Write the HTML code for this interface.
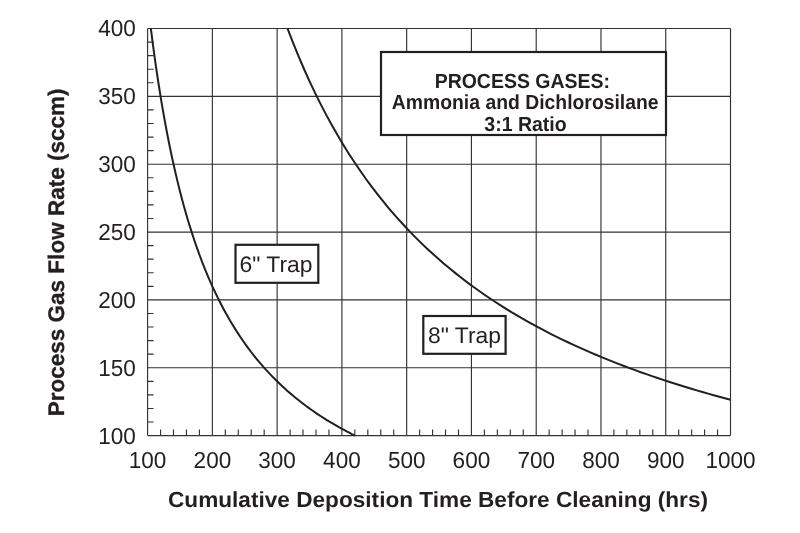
<!DOCTYPE html>
<html><head><meta charset="utf-8"><title>Process Gas Flow Rate</title>
<style>
html,body{margin:0;padding:0;background:#fff;}
svg{display:block;text-rendering:geometricPrecision;font-family:"Liberation Sans",sans-serif;}
</style></head><body>
<svg width="800" height="533" viewBox="0 0 800 533">
<rect width="800" height="533" fill="#fff"/>
<path d="M147.60,28.5V435.6M212.37,28.5V435.6M277.13,28.5V435.6M341.90,28.5V435.6M406.67,28.5V435.6M471.43,28.5V435.6M536.20,28.5V435.6M600.97,28.5V435.6M665.73,28.5V435.6M730.50,28.5V435.6M147.6,435.60H730.5M147.6,367.75H730.5M147.6,299.90H730.5M147.6,232.05H730.5M147.6,164.20H730.5M147.6,96.35H730.5M147.6,28.50H730.5" stroke="#333" stroke-width="1.15" fill="none"/>
<path d="M160.55,435.6v-6M173.51,435.6v-6M186.46,435.6v-6M199.41,435.6v-6M225.32,435.6v-6M238.27,435.6v-6M251.23,435.6v-6M264.18,435.6v-6M290.09,435.6v-6M303.04,435.6v-6M315.99,435.6v-6M328.95,435.6v-6M354.85,435.6v-6M367.81,435.6v-6M380.76,435.6v-6M393.71,435.6v-6M419.62,435.6v-6M432.57,435.6v-6M445.53,435.6v-6M458.48,435.6v-6M484.39,435.6v-6M497.34,435.6v-6M510.29,435.6v-6M523.25,435.6v-6M549.15,435.6v-6M562.11,435.6v-6M575.06,435.6v-6M588.01,435.6v-6M613.92,435.6v-6M626.87,435.6v-6M639.83,435.6v-6M652.78,435.6v-6M678.69,435.6v-6M691.64,435.6v-6M704.59,435.6v-6M717.55,435.6v-6M147.6,422.03h6M147.6,408.46h6M147.6,394.89h6M147.6,381.32h6M147.6,354.18h6M147.6,340.61h6M147.6,327.04h6M147.6,313.47h6M147.6,286.33h6M147.6,272.76h6M147.6,259.19h6M147.6,245.62h6M147.6,218.48h6M147.6,204.91h6M147.6,191.34h6M147.6,177.77h6M147.6,150.63h6M147.6,137.06h6M147.6,123.49h6M147.6,109.92h6M147.6,82.78h6M147.6,69.21h6M147.6,55.64h6M147.6,42.07h6" stroke="#333" stroke-width="1.15" fill="none"/>
<path d="M150.84,28.50 L153.42,48.36 L156.00,66.82 L158.59,84.01 L161.17,100.08 L163.75,115.12 L166.33,129.23 L168.92,142.49 L171.50,154.98 L174.08,166.76 L176.66,177.89 L179.25,188.43 L181.83,198.42 L184.41,207.90 L186.99,216.91 L189.58,225.48 L192.16,233.65 L194.74,241.44 L197.32,248.88 L199.91,256.00 L202.49,262.80 L205.07,269.32 L207.65,275.57 L210.24,281.56 L212.82,287.32 L215.40,292.85 L217.98,298.17 L220.56,303.29 L223.15,308.23 L225.73,312.98 L228.31,317.57 L230.89,321.99 L233.48,326.26 L236.06,330.39 L238.64,334.39 L241.22,338.25 L243.81,341.99 L246.39,345.61 L248.97,349.12 L251.55,352.52 L254.14,355.82 L256.72,359.02 L259.30,362.12 L261.88,365.14 L264.47,368.07 L267.05,370.92 L269.63,373.69 L272.21,376.39 L274.80,379.01 L277.38,381.56 L279.96,384.05 L282.54,386.47 L285.13,388.83 L287.71,391.13 L290.29,393.37 L292.87,395.56 L295.46,397.69 L298.04,399.78 L300.62,401.81 L303.20,403.80 L305.79,405.74 L308.37,407.63 L310.95,409.48 L313.53,411.30 L316.12,413.07 L318.70,414.80 L321.28,416.49 L323.86,418.15 L326.45,419.78 L329.03,421.37 L331.61,422.92 L334.19,424.45 L336.78,425.94 L339.36,427.40 L341.94,428.84 L344.52,430.24 L347.11,431.62 L349.69,432.97 L352.27,434.30 L354.85,435.60" stroke="#231f20" stroke-width="2" fill="none"/>
<path d="M287.50,28.50 L293.10,42.98 L298.71,56.70 L304.32,69.73 L309.93,82.11 L315.53,93.90 L321.14,105.14 L326.75,115.85 L332.36,126.09 L337.96,135.87 L343.57,145.24 L349.18,154.21 L354.79,162.81 L360.40,171.06 L366.00,178.99 L371.61,186.61 L377.22,193.93 L382.83,200.99 L388.43,207.78 L394.04,214.33 L399.65,220.65 L405.26,226.75 L410.86,232.64 L416.47,238.33 L422.08,243.84 L427.69,249.16 L433.29,254.32 L438.90,259.31 L444.51,264.14 L450.12,268.83 L455.73,273.38 L461.33,277.80 L466.94,282.08 L472.55,286.24 L478.16,290.29 L483.76,294.22 L489.37,298.04 L494.98,301.76 L500.59,305.38 L506.19,308.90 L511.80,312.33 L517.41,315.67 L523.02,318.93 L528.62,322.10 L534.23,325.20 L539.84,328.22 L545.45,331.16 L551.06,334.04 L556.66,336.85 L562.27,339.59 L567.88,342.27 L573.49,344.89 L579.09,347.44 L584.70,349.95 L590.31,352.39 L595.92,354.78 L601.52,357.12 L607.13,359.42 L612.74,361.66 L618.35,363.85 L623.95,366.00 L629.56,368.11 L635.17,370.17 L640.78,372.19 L646.39,374.17 L651.99,376.12 L657.60,378.02 L663.21,379.89 L668.82,381.72 L674.42,383.52 L680.03,385.28 L685.64,387.01 L691.25,388.71 L696.85,390.38 L702.46,392.01 L708.07,393.62 L713.68,395.20 L719.28,396.75 L724.89,398.28 L730.50,399.78" stroke="#231f20" stroke-width="2" fill="none"/>
<g font-size="23.1" fill="#231f20"><text x="147.6" y="468" text-anchor="middle" textLength="37.6" lengthAdjust="spacingAndGlyphs">100</text><text x="212.4" y="468" text-anchor="middle" textLength="37.6" lengthAdjust="spacingAndGlyphs">200</text><text x="277.1" y="468" text-anchor="middle" textLength="37.6" lengthAdjust="spacingAndGlyphs">300</text><text x="341.9" y="468" text-anchor="middle" textLength="37.6" lengthAdjust="spacingAndGlyphs">400</text><text x="406.7" y="468" text-anchor="middle" textLength="37.6" lengthAdjust="spacingAndGlyphs">500</text><text x="471.4" y="468" text-anchor="middle" textLength="37.6" lengthAdjust="spacingAndGlyphs">600</text><text x="536.2" y="468" text-anchor="middle" textLength="37.6" lengthAdjust="spacingAndGlyphs">700</text><text x="601.0" y="468" text-anchor="middle" textLength="37.6" lengthAdjust="spacingAndGlyphs">800</text><text x="665.7" y="468" text-anchor="middle" textLength="37.6" lengthAdjust="spacingAndGlyphs">900</text><text x="730.5" y="468" text-anchor="middle" textLength="50.1" lengthAdjust="spacingAndGlyphs">1000</text><text x="135.9" y="444" text-anchor="end" textLength="37.6" lengthAdjust="spacingAndGlyphs">100</text><text x="135.9" y="376" text-anchor="end" textLength="37.6" lengthAdjust="spacingAndGlyphs">150</text><text x="135.9" y="308" text-anchor="end" textLength="37.6" lengthAdjust="spacingAndGlyphs">200</text><text x="135.9" y="240" text-anchor="end" textLength="37.6" lengthAdjust="spacingAndGlyphs">250</text><text x="135.9" y="172" text-anchor="end" textLength="37.6" lengthAdjust="spacingAndGlyphs">300</text><text x="135.9" y="104" text-anchor="end" textLength="37.6" lengthAdjust="spacingAndGlyphs">350</text><text x="135.9" y="36" text-anchor="end" textLength="37.6" lengthAdjust="spacingAndGlyphs">400</text></g>
<rect x="381" y="52" width="285" height="83" fill="#fff" stroke="#231f20" stroke-width="2.2"/>
<g font-size="20.5" font-weight="bold" lengthAdjust="spacingAndGlyphs" fill="#231f20" text-anchor="middle">
<text x="522.3" y="87.6" textLength="175.3" lengthAdjust="spacingAndGlyphs">PROCESS GASES:</text>
<text x="525.2" y="109.3" textLength="266.8" lengthAdjust="spacingAndGlyphs">Ammonia and Dichlorosilane</text>
<text x="525.5" y="131.4" textLength="82.4" lengthAdjust="spacingAndGlyphs">3:1 Ratio</text>
</g>
<rect x="235.5" y="244.8" width="82.8" height="38" fill="#fff" stroke="#231f20" stroke-width="2.2"/>
<text x="276" y="272" font-size="22.5" fill="#231f20" text-anchor="middle" textLength="73" lengthAdjust="spacingAndGlyphs">6" Trap</text>
<rect x="423.3" y="316" width="82.3" height="37.8" fill="#fff" stroke="#231f20" stroke-width="2.2"/>
<text x="464.5" y="343" font-size="22.5" fill="#231f20" text-anchor="middle" textLength="73" lengthAdjust="spacingAndGlyphs">8" Trap</text>
<text x="438" y="507.2" font-size="21.9" textLength="540" lengthAdjust="spacingAndGlyphs" font-weight="bold" fill="#231f20" text-anchor="middle">Cumulative Deposition Time Before Cleaning (hrs)</text>
<text transform="translate(63.8,252.4) rotate(-90)" font-size="22.6" stroke="#231f20" stroke-width="0.3" textLength="327.8" lengthAdjust="spacingAndGlyphs" font-weight="bold" fill="#231f20" text-anchor="middle">Process Gas Flow Rate (sccm)</text>
</svg>
</body></html>
